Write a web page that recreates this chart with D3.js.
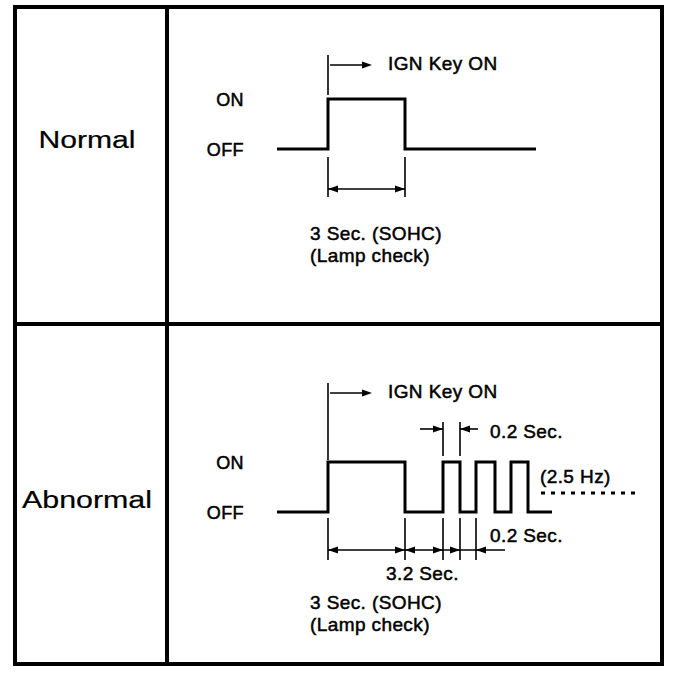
<!DOCTYPE html>
<html><head><meta charset="utf-8">
<script src="https://cdn.jsdelivr.net/npm/d3@7"></script>
<style>html,body{margin:0;padding:0;background:#fff}svg{display:block}text{font-family:"Liberation Sans",Arial,sans-serif;fill:#000}</style>
</head><body><svg id="c" width="688" height="678"></svg>
<script>
// ---------- DATA ----------
const rowLabels = ["Normal", "Abnormal"];
const levels = ["OFF", "ON"];
// signal: [time (s, schematic), level starting at that time]
const normalSignal = [[-0.8, "OFF"], [0, "ON"], [3, "OFF"], [4.3, "OFF"]];
const abnormalSignal = [[-0.8, "OFF"], [0, "ON"], [3, "OFF"], [3.2, "ON"], [3.4, "OFF"], [3.6, "ON"], [3.8, "OFF"], [4.0, "ON"], [4.2, "OFF"], [4.5, "OFF"]];
const ignLabel = "IGN Key ON";
const lampLabels = ["3 Sec. (SOHC)", "(Lamp check)"];
const pulseLabel = "0.2 Sec.";
const gapLabel = "3.2 Sec.";
const freqLabel = "(2.5 Hz)";
// extension line times
const normalMarks = [0, 3];
const abnormalMarks = [0, 3, 3.2, 3.4, 3.6];
// arrowheads on dimension lines: [time, direction]
const normalArrows = [[0, -1], [3, 1]];
const abnormalArrows = [[0, -1], [3, 1], [3, -1], [3.2, 1], [3.4, 1], [3.6, -1]];
const topArrows = [[3.2, 1], [3.4, -1]];

// ---------- LAYOUT ----------
const timeBreaks = [-0.8, 0, 3, 3.2, 3.4, 3.6, 3.8, 4.0, 4.2, 4.5];
const xBreaks = [277, 328, 405, 443, 460, 476, 495, 511, 528, 552];
const x = d3.scaleLinear().domain(timeBreaks).range(xBreaks);

const svg = d3.select("#c");
const FS = 19;

// frame
svg.append("rect").attr("x", 15).attr("y", 7).attr("width", 647).attr("height", 657)
  .attr("fill", "none").attr("stroke", "#000").attr("stroke-width", 4);
svg.append("line").attr("x1", 167).attr("x2", 167).attr("y1", 7).attr("y2", 664)
  .attr("stroke", "#000").attr("stroke-width", 4);
svg.append("line").attr("x1", 15).attr("x2", 662).attr("y1", 324).attr("y2", 324)
  .attr("stroke", "#000").attr("stroke-width", 4);

// row labels
const rowLayout = [{cy: 148, w: 97}, {cy: 508, w: 130}];
rowLabels.forEach((t, i) => {
  svg.append("text").attr("x", 87).attr("y", rowLayout[i].cy).attr("text-anchor", "middle")
    .attr("font-size", 23).attr("textLength", rowLayout[i].w).attr("lengthAdjust", "spacingAndGlyphs")
    .attr("stroke", "#000").attr("stroke-width", 0.2)
    .text(t);
});

function arrowHead(g, xt, y, dir) {
  const L = 10, H = 3.5;
  g.append("path").attr("d", `M${xt},${y} L${xt - dir * L},${y - H} L${xt - dir * L},${y + H} Z`).attr("fill", "#000");
}
function hline(g, x1, x2, y, w) {
  g.append("line").attr("x1", x1).attr("x2", x2).attr("y1", y).attr("y2", y).attr("stroke", "#000").attr("stroke-width", w || 1.6);
}
function vline(g, xx, y1, y2, w) {
  g.append("line").attr("x1", xx).attr("x2", xx).attr("y1", y1).attr("y2", y2).attr("stroke", "#000").attr("stroke-width", w || 1.6);
}
function label(g, t, xx, y, anchor, fs) {
  g.append("text").attr("x", xx).attr("y", y).attr("font-size", fs || FS).attr("text-anchor", anchor || "start")
    .attr("letter-spacing", 0.4).attr("stroke", "#000").attr("stroke-width", 0.5).text(t);
}

const panels = [
  {signal: normalSignal, yOn: 99, yOff: 149, ignY: 65, ignTop: 55, ignBot: 95, marks: normalMarks, markTop: 157, markBot: 197,
   dimY: 189, arrows: normalArrows, lampY: 240},
  {signal: abnormalSignal, yOn: 462, yOff: 512, ignY: 393, ignTop: 383, ignBot: 460, marks: abnormalMarks, markTop: 518, markBot: 560,
   dimY: 550, arrows: abnormalArrows, lampY: 609}
];

panels.forEach((p, i) => {
  const g = svg.append("g");
  const y = d3.scalePoint().domain(levels).range([p.yOff, p.yOn]);
  // waveform
  const line = d3.line().x(d => x(d[0])).y(d => y(d[1])).curve(d3.curveStepAfter);
  g.append("path").attr("d", line(p.signal)).attr("fill", "none").attr("stroke", "#000")
    .attr("stroke-width", 3).attr("stroke-linejoin", "miter");
  // level labels
  levels.forEach(l => label(g, l, 244, y(l) + 7, "end", 18));
  // IGN key marker
  vline(g, x(0), p.ignTop, p.ignBot);
  hline(g, x(0) + 2, x(0) + 36, p.ignY);
  arrowHead(g, x(0) + 44, p.ignY, 1);
  label(g, ignLabel, 388, p.ignY + 5);
  // extension lines
  p.marks.forEach(t => vline(g, x(t), p.markTop, p.markBot));
  // dimension line
  hline(g, x(0), i === 0 ? x(3) : x(4.0) - 6, p.dimY);
  p.arrows.forEach(a => arrowHead(g, x(a[0]), p.dimY, a[1]));
  // lamp text
  lampLabels.forEach((t, k) => label(g, t, 310, p.lampY + k * 22));
  if (i === 1) {
    // top 0.2 sec pulse width
    p.marks.slice(2, 4).forEach(t => vline(g, x(t), 422, 456));
    hline(g, x(3.2) - 23, x(3.2), 429);
    hline(g, x(3.4), x(3.4) + 18, 429);
    topArrows.forEach(a => arrowHead(g, x(a[0]), 429, a[1]));
    label(g, pulseLabel, 490, 438);
    // bottom labels
    label(g, pulseLabel, 490, 542);
    label(g, gapLabel, 386, 580);
    // frequency
    label(g, freqLabel, 540, 483, "start", 19);
    g.append("line").attr("x1", 541).attr("x2", 637).attr("y1", 493).attr("y2", 493)
      .attr("stroke", "#000").attr("stroke-width", 3).attr("stroke-dasharray", "4,6");
  }
});
</script></body></html>
